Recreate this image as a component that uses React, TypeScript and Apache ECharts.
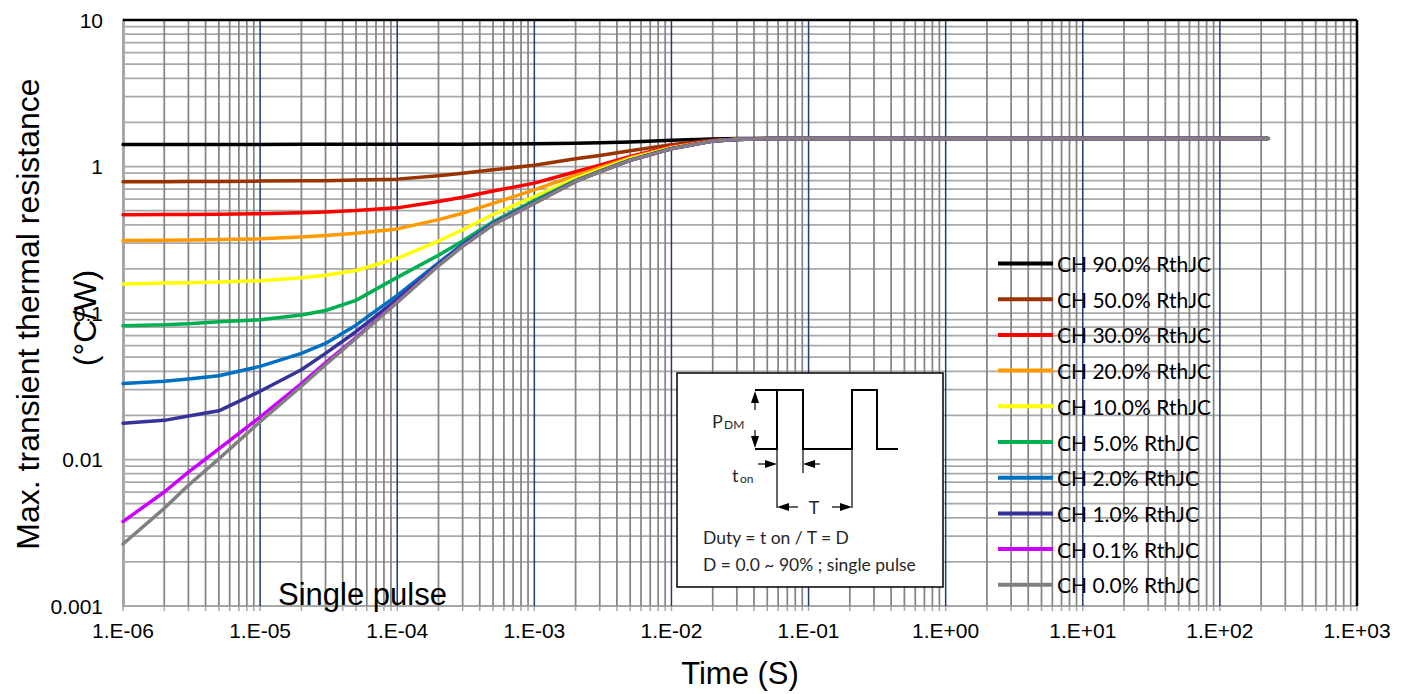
import React, { useEffect, useRef } from "react";
import * as echarts from "echarts";

// ---------- data ----------
const TIMES = [1e-6, 2e-6, 3e-6, 5e-6, 1e-5, 2e-5, 3e-5, 5e-5, 1e-4, 2e-4, 3e-4, 5e-4, 1e-3, 2e-3, 3e-3, 5e-3, 1e-2, 2e-2, 3e-2, 5e-2, 1e-1, 1, 10, 100, 224];

const D90 = [1.415, 1.415, 1.415, 1.415, 1.415, 1.416, 1.416, 1.416, 1.417, 1.419, 1.421, 1.424, 1.43, 1.44, 1.45, 1.47, 1.51, 1.54, 1.55, 1.555, 1.555, 1.555, 1.555, 1.555, 1.555];
const D50 = [0.787, 0.788, 0.789, 0.791, 0.795, 0.798, 0.8, 0.808, 0.82, 0.865, 0.9, 0.95, 1.02, 1.13, 1.19, 1.28, 1.41, 1.51, 1.54, 1.553, 1.555, 1.555, 1.555, 1.555, 1.555];
const D30 = [0.469, 0.47, 0.471, 0.473, 0.476, 0.483, 0.49, 0.5, 0.522, 0.577, 0.617, 0.68, 0.77, 0.92, 1.02, 1.17, 1.37, 1.5, 1.535, 1.552, 1.555, 1.555, 1.555, 1.555, 1.555];
const D20 = [0.313, 0.314, 0.315, 0.317, 0.321, 0.33, 0.338, 0.35, 0.375, 0.434, 0.48, 0.56, 0.692, 0.87, 0.98, 1.15, 1.355, 1.495, 1.533, 1.551, 1.555, 1.555, 1.555, 1.555, 1.555];
const D10 = [0.158, 0.16, 0.161, 0.163, 0.166, 0.174, 0.181, 0.195, 0.236, 0.31, 0.37, 0.47, 0.624, 0.83, 0.95, 1.13, 1.34, 1.49, 1.532, 1.55, 1.555, 1.555, 1.555, 1.555, 1.555];
const D5 = [0.0817, 0.083, 0.0845, 0.087, 0.09, 0.097, 0.104, 0.122, 0.175, 0.248, 0.31, 0.42, 0.585, 0.805, 0.93, 1.11, 1.33, 1.49, 1.531, 1.55, 1.555, 1.555, 1.555, 1.555, 1.555];
const D2 = [0.033, 0.0342, 0.0354, 0.0373, 0.0432, 0.053, 0.062, 0.0826, 0.132, 0.22, 0.295, 0.41, 0.57, 0.795, 0.925, 1.105, 1.325, 1.49, 1.53, 1.55, 1.555, 1.555, 1.555, 1.555, 1.555];
const D1 = [0.0177, 0.0185, 0.0198, 0.0215, 0.0292, 0.041, 0.053, 0.0745, 0.124, 0.214, 0.29, 0.405, 0.565, 0.792, 0.922, 1.102, 1.322, 1.49, 1.53, 1.55, 1.555, 1.555, 1.555, 1.555, 1.555];
const D01 = [0.00377, 0.006, 0.0082, 0.0118, 0.0195, 0.033, 0.0457, 0.068, 0.119, 0.211, 0.286, 0.401, 0.561, 0.79, 0.92, 1.1, 1.32, 1.49, 1.53, 1.55, 1.555, 1.555, 1.555, 1.555, 1.555];
const D0 = [0.00265, 0.00464, 0.00667, 0.0101, 0.0181, 0.0316, 0.0443, 0.067, 0.118, 0.21, 0.285, 0.4, 0.56, 0.79, 0.92, 1.1, 1.32, 1.49, 1.53, 1.55, 1.555, 1.555, 1.555, 1.555, 1.555];

const SERIES_NAMES = [
  "CH 90.0% RthJC",
  "CH 50.0% RthJC",
  "CH 30.0% RthJC",
  "CH 20.0% RthJC",
  "CH 10.0% RthJC",
  "CH 5.0% RthJC",
  "CH 2.0% RthJC",
  "CH 1.0% RthJC",
  "CH 0.1% RthJC",
  "CH 0.0% RthJC",
];
const SERIES_VALUES = [D90, D50, D30, D20, D10, D5, D2, D1, D01, D0];
const SERIES_COLORS = ["#000000", "#993300", "#FF0000", "#FF9900", "#FFFF00", "#00B050", "#0070C0", "#333399", "#CC00FF", "#808080"];

const X_MIN = 1e-6;
const X_MAX = 1e3;
const Y_MIN = 0.001;
const Y_MAX = 10;
const X_DECADES = [-6, -5, -4, -3, -2, -1, 0, 1, 2];
const Y_DECADES = [-3, -2, -1, 0];

// ---------- styles ----------
const FONT = "'Liberation Sans', Arial, sans-serif";
const FONT2 = "Lato, 'Open Sans', sans-serif";
const GRID_STYLES = [
  { color: "#a8a8a8", width: 1.75 }, // 0 horizontal
  { color: "#858585", width: 1.75 }, // 1 vertical minor
  { color: "#1f3a6e", width: 1.5 }, // 2 vertical major
  { color: "#000000", width: 2.5 }, // 3 border
];

function buildGrid() {
  const out: number[][] = [];
  Y_DECADES.forEach((e) => {
    for (let m = 1; m <= 9; m++) {
      if (m === 1 && e === -3) continue;
      out.push([1, m * Math.pow(10, e), 0, 1]);
    }
  });
  X_DECADES.forEach((e) => {
    for (let m = 2; m <= 9; m++) out.push([m * Math.pow(10, e), 1, 1, 0]);
  });
  X_DECADES.forEach((e) => {
    if (e > -6) out.push([Math.pow(10, e), 1, 2, 0]);
  });
  out.push([1, Y_MAX, 3, 1]);
  out.push([X_MAX, 1, 3, 0]);
  return out;
}

function buildTicks() {
  const out: number[][] = [];
  X_DECADES.forEach((e) => {
    for (let m = 1; m <= 9; m++) out.push([m * Math.pow(10, e), Y_MIN]);
  });
  out.push([X_MAX, Y_MIN]);
  return out;
}

function xLabel(v: number) {
  const e = Math.round(Math.log10(v));
  return "1.E" + (e < 0 ? "-" : "+") + String(Math.abs(e)).padStart(2, "0");
}
function yLabel(v: number) {
  const e = Math.round(Math.log10(v));
  return e >= 0 ? String(Math.pow(10, e)) : "0." + "0".repeat(-e - 1) + "1";
}

function arrowHead(tip: [number, number], dir: "up" | "down" | "left" | "right") {
  const [x, y] = tip;
  const L = 12;
  const W = 4;
  let pts: number[][];
  if (dir === "up") pts = [[x, y], [x - W, y + L], [x + W, y + L]];
  else if (dir === "down") pts = [[x, y], [x - W, y - L], [x + W, y - L]];
  else if (dir === "left") pts = [[x, y], [x + L, y - W], [x + L, y + W]];
  else pts = [[x, y], [x - L, y - W], [x - L, y + W]];
  return { type: "polygon", shape: { points: pts }, style: { fill: "#000" }, z: 100 };
}
function seg(x1: number, y1: number, x2: number, y2: number, w = 1.2) {
  return { type: "line", shape: { x1, y1, x2, y2 }, style: { stroke: "#000", lineWidth: w }, z: 100 };
}
function txt(text: string, x: number, y: number, size: number, align = "left", vAlign = "middle", font = FONT2, color = "#262626") {
  return {
    type: "text",
    x,
    y,
    z: 100,
    style: { text, fontSize: size, fontFamily: font, fill: color, align, verticalAlign: vAlign, textAlign: align, textVerticalAlign: vAlign },
  };
}

export default function App() {
  const ref = useRef<HTMLDivElement>(null);
  useEffect(() => {
    if (!ref.current) return;
    const chart = echarts.init(ref.current, undefined, { renderer: "svg" });

    const lineSeries = SERIES_NAMES.map((name, i) => ({
      name,
      type: "line",
      data: TIMES.map((t, j) => [t, SERIES_VALUES[i][j]]),
      showSymbol: false,
      symbol: "none",
      smooth: false,
      lineStyle: { color: SERIES_COLORS[i], width: 3.5, join: "round", cap: "round" },
      itemStyle: { color: SERIES_COLORS[i] },
      z: 3,
    }));

    const option: any = {
      animation: false,
      backgroundColor: "#ffffff",
      grid: { left: 123, width: 1234, top: 20, height: 592, containLabel: false },
      xAxis: {
        type: "log",
        logBase: 10,
        min: X_MIN,
        max: X_MAX,
        splitNumber: 9,
        axisLine: { show: true, lineStyle: { color: "#a6a6a6", width: 2 } },
        axisTick: { show: false },
        minorTick: { show: false },
        splitLine: { show: false },
        axisLabel: { formatter: xLabel, fontSize: 21, fontFamily: FONT, color: "#000", margin: 14, showMinLabel: true, showMaxLabel: true },
        name: "Time (S)",
        nameLocation: "middle",
        nameGap: 52,
        nameTextStyle: { fontSize: 31, fontFamily: FONT, color: "#000" },
      },
      yAxis: {
        type: "log",
        logBase: 10,
        min: Y_MIN,
        max: Y_MAX,
        splitNumber: 4,
        axisLine: { show: true, lineStyle: { color: "#a6a6a6", width: 3 } },
        axisTick: { show: false },
        minorTick: { show: false },
        splitLine: { show: false },
        axisLabel: { formatter: yLabel, fontSize: 21, fontFamily: FONT, color: "#000", margin: 20, showMinLabel: true, showMaxLabel: true },
      },
      legend: {
        data: SERIES_NAMES,
        orient: "vertical",
        left: 998,
        top: 253,
        padding: 0,
        icon: "rect",
        itemWidth: 55,
        itemHeight: 4,
        itemGap: 14.7,
        textStyle: { fontSize: 21, fontFamily: FONT2, color: "#000", lineHeight: 20, padding: [0, 0, 0, -1] },
        selectedMode: false,
      },
      series: [
        {
          type: "custom",
          name: "grid",
          z: 1,
          silent: true,
          encode: { x: 0, y: 1 },
          data: buildGrid(),
          renderItem: (params: any, api: any) => {
            const orient = api.value(3);
            const s = GRID_STYLES[api.value(2)];
            let p0: number[];
            let p1: number[];
            if (orient === 0) {
              const v = api.value(0);
              p0 = api.coord([v, Y_MIN]);
              p1 = api.coord([v, Y_MAX]);
            } else {
              const v = api.value(1);
              p0 = api.coord([X_MIN, v]);
              p1 = api.coord([X_MAX, v]);
            }
            return { type: "line", shape: { x1: p0[0], y1: p0[1], x2: p1[0], y2: p1[1] }, style: { stroke: s.color, lineWidth: s.width } };
          },
        },
        {
          type: "custom",
          name: "ticks",
          z: 1,
          silent: true,
          clip: false,
          encode: { x: 0, y: 1 },
          data: buildTicks(),
          renderItem: (params: any, api: any) => {
            const p = api.coord([api.value(0), api.value(1)]);
            return { type: "line", shape: { x1: p[0], y1: p[1], x2: p[0], y2: p[1] + 5 }, style: { stroke: "#a6a6a6", lineWidth: 1.5 } };
          },
        },
        ...lineSeries,
      ],
      graphic: [
        {
          type: "text",
          x: 28,
          y: 314,
          rotation: Math.PI / 2,
          style: { text: "Max. transient thermal resistance", fontSize: 32, fontFamily: FONT, fill: "#000", align: "center", verticalAlign: "middle", textAlign: "center", textVerticalAlign: "middle" },
        },
        {
          type: "text",
          x: 85,
          y: 318,
          rotation: Math.PI / 2,
          style: { text: "(°C/W)", fontSize: 32, fontFamily: FONT, fill: "#000", align: "center", verticalAlign: "middle", textAlign: "center", textVerticalAlign: "middle" },
        },
        txt("Single pulse", 278, 594, 31, "left", "middle", FONT, "#000"),
        {
          type: "rect",
          z: 99,
          shape: { x: 677, y: 373, width: 266, height: 214 },
          style: { fill: "#ffffff", stroke: "#000", lineWidth: 1.5 },
        },
        {
          type: "polyline",
          z: 100,
          shape: { points: [[755, 449], [777, 449], [777, 390], [803, 390], [803, 449], [852, 449], [852, 390], [877, 390], [877, 449], [898, 449]] },
          style: { stroke: "#000", lineWidth: 2, fill: null },
        },
        seg(755, 390, 777, 390, 2),
        arrowHead([755, 391], "up"),
        seg(755, 400, 755, 410),
        arrowHead([755, 448], "down"),
        seg(755, 430, 755, 440),
        seg(777, 449, 777, 508),
        seg(803, 449, 803, 473),
        seg(852, 449, 852, 508),
        seg(758, 464, 767, 464),
        arrowHead([777, 464], "right"),
        arrowHead([803, 464], "left"),
        seg(813, 464, 820, 464),
        arrowHead([777, 507], "left"),
        seg(787, 507, 798, 507),
        arrowHead([852, 507], "right"),
        seg(832, 507, 842, 507),
        txt("P", 712, 430, 18, "left", "bottom"),
        txt("DM", 724, 430, 12, "left", "bottom"),
        txt("t", 732, 484, 18, "left", "bottom"),
        txt("on", 740, 484, 12, "left", "bottom"),
        txt("T", 814, 507, 18, "center", "middle"),
        txt("Duty = t on / T = D", 703, 537, 17.5),
        txt("D = 0.0 ~ 90% ; single pulse", 703, 564, 17.5),
      ],
    };

    chart.setOption(option);
    return () => chart.dispose();
  }, []);

  return <div ref={ref} style={{ position: "fixed", left: 0, top: 0, width: 1408, height: 694 }} />;
}
